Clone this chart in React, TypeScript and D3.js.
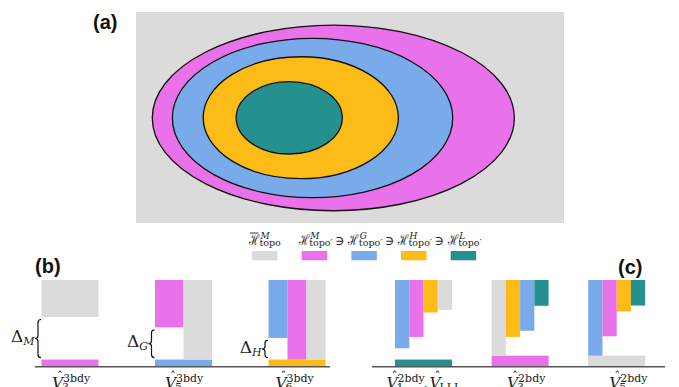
import React from "react";
import * as d3 from "d3";

const W = 679;
const H = 387;

// Colour per set: bar = complement (grey), M, G, H, L
const palette: Record<string, string> = {
  bar: "#dbdbdb",
  M: "#e971e9",
  G: "#79abea",
  H: "#fdbb18",
  L: "#24918e",
};

// Panel (a): nested sets, extents in the unit frame of the grey box
const ellipseKeys = ["M", "G", "H", "L"];
const ellipseX0 = [0.038, 0.085, 0.157, 0.234];
const ellipseX1 = [0.884, 0.74, 0.613, 0.482];
const ellipseY0 = [0.062, 0.125, 0.212, 0.33];
const ellipseY1 = [0.942, 0.88, 0.79, 0.673];

// Legend
const legendKeys = ["bar", "M", "G", "H", "L"];
const legendSup = ["M", "M", "G", "H", "L"];

// Panels (b) and (c): one group per potential term
const groupIds = ["b1", "b2", "b3", "c1", "c2", "c3"];
const groupPanel = ["b", "b", "b", "c", "c", "c"];
const baseKey = ["M", "G", "H", "L", "M", "bar"];
const baseTop = [0.075, 0.075, 0.075, 0.075, 0.12, 0.12];
const columnKeys = [
  ["bar"],
  ["M", "bar"],
  ["G", "M", "bar"],
  ["G", "M", "H", "bar"],
  ["bar", "H", "G", "L"],
  ["G", "M", "H", "L"],
];
// lower end of each column; 0 = resting on the base strip
const columnBottoms = [
  [0.57],
  [0.45, 0],
  [0.326, 0, 0],
  [0.206, 0.338, 0.622, 0.653],
  [0, 0.338, 0.41, 0.7],
  [0, 0.345, 0.634, 0.703],
];
const gapSymbol = ["M", "G", "H", "", "", ""];
const labelSub = ["3", "5", "6", "1", "3", "5"];
const labelSup = ["3bdy", "3bdy", "3bdy", "2bdy", "2bdy", "2bdy"];
const labelShift = [-18, -18.5, -21.5, -37, -13, -7.5];

const SERIF = "'DejaVu Serif', 'Liberation Serif', serif";
const SANS = "'Liberation Sans', Arial, sans-serif";

function bracePath(xr: number, y0: number, y1: number): string {
  const w = 6;
  const xm = xr - w / 2;
  const xl = xr - w;
  const ym = (y0 + y1) / 2;
  const r = Math.min(3, (y1 - y0) / 6);
  const p = d3.path();
  p.moveTo(xr, y0);
  p.quadraticCurveTo(xm, y0, xm, y0 + r);
  p.lineTo(xm, ym - r);
  p.quadraticCurveTo(xm, ym, xl, ym);
  p.quadraticCurveTo(xm, ym, xm, ym + r);
  p.lineTo(xm, y1 - r);
  p.quadraticCurveTo(xm, y1, xr, y1);
  return p.toString();
}

function VLabel({ x, y, sub, sup }: { x: number; y: number; sub: string; sup?: string }) {
  return (
    <g fill="#222">
      <text x={x} y={y} fontFamily={SERIF} fontStyle="italic" fontSize={15.5}>
        V
      </text>
      <text x={x + 5} y={y - 7} fontFamily={SERIF} fontSize={12}>
        ˆ
      </text>
      {sup ? (
        <text x={x + 11} y={y - 6} fontFamily={SERIF} fontSize={11}>
          {sup}
        </text>
      ) : null}
      <text x={x + 10} y={y + 3} fontFamily={SERIF} fontSize={11}>
        {sub}
      </text>
    </g>
  );
}

export default function App() {
  // panel (a) frame
  const boxX = d3.scaleLinear().domain([0, 1]).range([136, 564]);
  const boxY = d3.scaleLinear().domain([0, 1]).range([12, 223]);

  // panels (b)/(c)
  const y = d3.scaleLinear().domain([0, 1]).range([366, 280]);
  const xB = d3.scalePoint<string>().domain(groupIds.slice(0, 3)).range([70, 297]);
  const xC = d3.scalePoint<string>().domain(groupIds.slice(3)).range([423.5, 616.7]);
  const groupWidth = 57;
  const cx = (i: number) => (groupPanel[i] === "b" ? xB(groupIds[i])! : xC(groupIds[i])!);

  const legendX = d3.scaleLinear().domain([0, legendKeys.length - 1]).range([252, 450.7]);

  const labelY = 388;

  return (
    <svg
      width={W}
      height={H}
      style={{ position: "absolute", left: 0, top: 0, background: "#fff" }}
    >
      {/* panel (a) */}
      <text x={93} y={29} fontFamily={SANS} fontWeight="bold" fontSize={20} fill="#111">
        (a)
      </text>
      <rect
        x={boxX(0)}
        y={boxY(0)}
        width={boxX(1) - boxX(0)}
        height={boxY(1) - boxY(0)}
        fill={palette.bar}
      />
      {ellipseKeys.map((k, i) => (
        <ellipse
          key={k}
          cx={(boxX(ellipseX0[i]) + boxX(ellipseX1[i])) / 2}
          cy={(boxY(ellipseY0[i]) + boxY(ellipseY1[i])) / 2}
          rx={(boxX(ellipseX1[i]) - boxX(ellipseX0[i])) / 2}
          ry={(boxY(ellipseY1[i]) - boxY(ellipseY0[i])) / 2}
          fill={palette[k]}
          stroke="#111"
          strokeWidth={1.3}
        />
      ))}

      {/* legend */}
      {legendKeys.map((k, i) => {
        const sx = legendX(i);
        const tx = sx - 3;
        return (
          <g key={k} fill="#222">
            <rect x={sx} y={251} width={25.5} height={9.3} fill={palette[k]} />
            <text
              x={tx}
              y={244.5}
              fontFamily={SERIF}
              fontSize={15}
              textLength={10.5}
              lengthAdjust="spacingAndGlyphs"
            >
              ℋ
            </text>
            {i === 0 ? (
              <line x1={tx + 1} x2={tx + 9.5} y1={233} y2={233} stroke="#222" strokeWidth={0.9} />
            ) : null}
            <text x={tx + 11.5} y={238.5} fontFamily={SERIF} fontStyle="italic" fontSize={9}>
              {legendSup[i]}
            </text>
            <text x={tx + 10.5} y={245.5} fontFamily={SERIF} fontSize={9.5}>
              {i === 0 ? "topo" : "topo′"}
            </text>
            {i >= 2 ? (
              <text x={tx - 13} y={244.5} fontFamily={SERIF} fontSize={12.5}>
                ∋
              </text>
            ) : null}
          </g>
        );
      })}

      {/* panels (b) and (c) */}
      <text x={35} y={273} fontFamily={SANS} fontWeight="bold" fontSize={20} fill="#111">
        (b)
      </text>
      <text x={618} y={274} fontFamily={SANS} fontWeight="bold" fontSize={20} fill="#111">
        (c)
      </text>

      {groupIds.map((id, i) => {
        const left = cx(i) - groupWidth / 2;
        const keys = columnKeys[i];
        const cw = groupWidth / keys.length;
        const firstBottom = Math.max(columnBottoms[i][0], baseTop[i]);
        return (
          <g key={id}>
            <rect
              x={left}
              y={y(baseTop[i])}
              width={groupWidth}
              height={y(0) - y(baseTop[i])}
              fill={palette[baseKey[i]]}
            />
            {keys.map((k, j) => {
              const lo = Math.max(columnBottoms[i][j], baseTop[i]);
              return (
                <rect
                  key={j}
                  x={left + j * cw}
                  y={y(1)}
                  width={cw}
                  height={y(lo) - y(1)}
                  fill={palette[k]}
                />
              );
            })}
            {gapSymbol[i] ? (
              <g>
                <path
                  d={bracePath(left - 0.5, y(firstBottom) + 2.5, y(baseTop[i]) - 2)}
                  fill="none"
                  stroke="#111"
                  strokeWidth={1.2}
                />
                <text
                  x={left - 7}
                  y={(y(firstBottom) + y(baseTop[i])) / 2 + 4}
                  textAnchor="end"
                  fontFamily={SERIF}
                  fontSize={17}
                  fill="#222"
                >
                  Δ
                  <tspan fontStyle="italic" fontSize={11} dy={3}>
                    {gapSymbol[i]}
                  </tspan>
                </text>
              </g>
            ) : null}
            <VLabel x={cx(i) + labelShift[i]} y={labelY} sub={labelSub[i]} sup={labelSup[i]} />
            {i === 3 ? (
              <g>
                <text x={cx(i) + labelShift[i] + 37} y={labelY - 1} fontFamily={SERIF} fontSize={13} fill="#222">
                  ,
                </text>
                <VLabel x={cx(i) + labelShift[i] + 43} y={labelY} sub="LLL" />
              </g>
            ) : null}
          </g>
        );
      })}

      {/* axis lines */}
      <line x1={35} x2={330} y1={y(0) + 0.7} y2={y(0) + 0.7} stroke="#555" strokeWidth={1.5} />
      <line x1={372} x2={665} y1={y(0) + 0.7} y2={y(0) + 0.7} stroke="#555" strokeWidth={1.5} />
    </svg>
  );
}
